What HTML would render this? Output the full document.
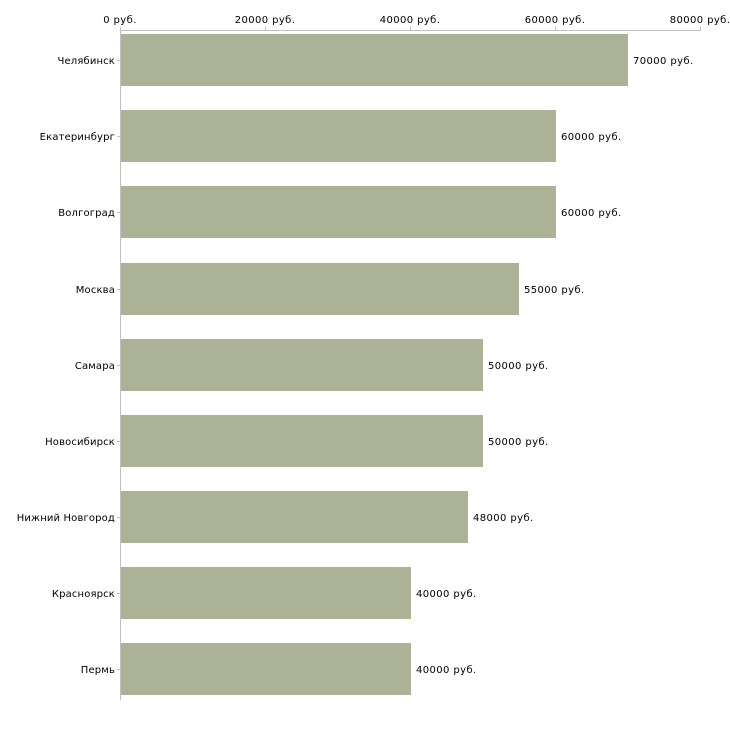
<!DOCTYPE html>
<html><head><meta charset="utf-8"><style>body{margin:0;background:#fff}</style></head><body>
<svg width="730" height="730" xmlns="http://www.w3.org/2000/svg" font-family="DejaVu Sans, Liberation Sans, sans-serif" font-size="10" letter-spacing="0.4" fill="#000">
<g stroke="#c0c0c0" stroke-width="1">
<line x1="120.5" y1="30.5" x2="700.5" y2="30.5"/>
<line x1="120.5" y1="27" x2="120.5" y2="700"/>
<line x1="265.5" y1="27" x2="265.5" y2="31"/>
<line x1="410.5" y1="27" x2="410.5" y2="31"/>
<line x1="555.5" y1="27" x2="555.5" y2="31"/>
<line x1="700.5" y1="27" x2="700.5" y2="31"/>
</g>
<g text-anchor="middle">
<text x="120" y="23">0 руб.</text>
<text x="265" y="23">20000 руб.</text>
<text x="410" y="23">40000 руб.</text>
<text x="555" y="23">60000 руб.</text>
<text x="700" y="23">80000 руб.</text>
</g>
<g fill="#acb296">
<rect x="121" y="34" width="507" height="52"/>
<rect x="121" y="110" width="435" height="52"/>
<rect x="121" y="186" width="435" height="52"/>
<rect x="121" y="263" width="398" height="52"/>
<rect x="121" y="339" width="362" height="52"/>
<rect x="121" y="415" width="362" height="52"/>
<rect x="121" y="491" width="347" height="52"/>
<rect x="121" y="567" width="290" height="52"/>
<rect x="121" y="643" width="290" height="52"/>
</g>
<g stroke="#c0c0c0">
<line x1="117" y1="60.5" x2="120" y2="60.5"/><line x1="117" y1="136.5" x2="120" y2="136.5"/><line x1="117" y1="212.5" x2="120" y2="212.5"/><line x1="117" y1="289.5" x2="120" y2="289.5"/><line x1="117" y1="365.5" x2="120" y2="365.5"/><line x1="117" y1="441.5" x2="120" y2="441.5"/><line x1="117" y1="517.5" x2="120" y2="517.5"/><line x1="117" y1="593.5" x2="120" y2="593.5"/><line x1="117" y1="669.5" x2="120" y2="669.5"/>
</g>
<g text-anchor="end" letter-spacing="0.15">
<text x="115" y="64">Челябинск</text>
<text x="115" y="140">Екатеринбург</text>
<text x="115" y="216">Волгоград</text>
<text x="115" y="293">Москва</text>
<text x="115" y="369">Самара</text>
<text x="115" y="445">Новосибирск</text>
<text x="115" y="521">Нижний Новгород</text>
<text x="115" y="597">Красноярск</text>
<text x="115" y="673">Пермь</text>
</g>
<g>
<text x="633" y="64">70000 руб.</text>
<text x="561" y="140">60000 руб.</text>
<text x="561" y="216">60000 руб.</text>
<text x="524" y="293">55000 руб.</text>
<text x="488" y="369">50000 руб.</text>
<text x="488" y="445">50000 руб.</text>
<text x="473" y="521">48000 руб.</text>
<text x="416" y="597">40000 руб.</text>
<text x="416" y="673">40000 руб.</text>
</g>
</svg>
</body></html>
